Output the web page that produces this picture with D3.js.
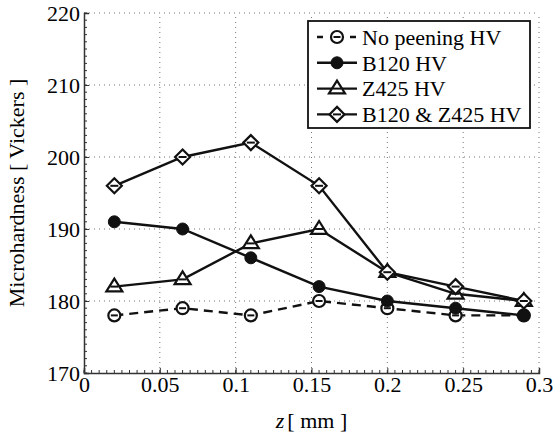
<!DOCTYPE html>
<html>
<head>
<meta charset="utf-8">
<script src="https://cdn.jsdelivr.net/npm/d3@7"></script>
<style>
  body { margin: 0; background: #fff; }
</style>
</head>
<body>
<svg id="main"></svg>
<script>
var w = 553;
var h = 438;
var padLeft = 84, padRight = 14, padTop = 13, padBottom = 65;
var serif = "Liberation Serif";

// data
var depth = [0.02, 0.065, 0.11, 0.155, 0.2, 0.245, 0.29];
var noPeening = [178, 179, 178, 180, 179, 178, 178];
var b120 = [191, 190, 186, 182, 180, 179, 178];
var z425 = [182, 183, 188, 190, 184, 181, 180];
var b120z425 = [196, 200, 202, 196, 184, 182, 180];
var seriesNames = ["No peening HV", "B120 HV", "Z425 HV", "B120 & Z425 HV"];
var xTicks = [0, 0.05, 0.1, 0.15, 0.2, 0.25, 0.3];
var yTicks = [170, 180, 190, 200, 210, 220];

var series = [
  {name: seriesNames[0], values: noPeening, marker: "circle", dash: "9,6"},
  {name: seriesNames[1], values: b120, marker: "dot", dash: null},
  {name: seriesNames[2], values: z425, marker: "triangle", dash: null},
  {name: seriesNames[3], values: b120z425, marker: "diamond", dash: null}
];

var svg = d3.select("#main").attr("width", w).attr("height", h)
  .attr("font-family", serif);

var x = d3.scaleLinear().domain([0, 0.3]).range([padLeft, w - padRight]);
var y = d3.scaleLinear().domain([170, 220]).range([h - padBottom, padTop]);

function serifText(sel) {
  return sel.attr("font-family", serif).style("font-family", "'Liberation Serif'")
    .attr("font-size", 22).style("font-size", "22px");
}

// dotted grid
var grid = svg.append("g").attr("stroke", "#777").attr("stroke-width", 1)
  .attr("stroke-dasharray", "1,4");
grid.selectAll(".gx").data(xTicks.slice(1)).enter().append("line")
  .attr("x1", function(d) { return x(d); }).attr("x2", function(d) { return x(d); })
  .attr("y1", y(170)).attr("y2", y(220));
grid.selectAll(".gy").data(yTicks.slice(1)).enter().append("line")
  .attr("y1", function(d) { return y(d); }).attr("y2", function(d) { return y(d); })
  .attr("x1", x(0)).attr("x2", x(0.3));

// axes with inward ticks
var xAxis = d3.axisBottom(x).tickValues(xTicks).tickSize(-5).tickPadding(3)
  .tickFormat(function(d) { return d === 0 ? "0" : String(d); });
var yAxis = d3.axisLeft(y).tickValues(yTicks).tickSize(-5).tickPadding(4);

var gx = svg.append("g").attr("transform", "translate(0," + y(170) + ")").call(xAxis);
var gy = svg.append("g").attr("transform", "translate(" + x(0) + ",0)").call(yAxis);
[gx, gy].forEach(function(g) {
  g.attr("font-family", serif).attr("font-size", 22);
  g.select(".domain").attr("stroke", "#333").attr("stroke-width", 1.5);
  g.selectAll(".tick line").attr("stroke", "#333");
  serifText(g.selectAll(".tick text")).attr("fill", "#000");
});
gx.selectAll(".tick text").attr("dy", "0.71em");

// minor ticks
var xMinor = d3.range(0, 0.3001, 0.005);
var yMinor = d3.range(170, 220.01, 1);
svg.append("g").selectAll("line").data(xMinor).enter().append("line")
  .attr("x1", function(d) { return x(d); }).attr("x2", function(d) { return x(d); })
  .attr("y1", y(170)).attr("y2", y(170) - 3).attr("stroke", "#333");
svg.append("g").selectAll("line").data(yMinor).enter().append("line")
  .attr("y1", function(d) { return y(d); }).attr("y2", function(d) { return y(d); })
  .attr("x1", x(0)).attr("x2", x(0) + 3).attr("stroke", "#333");

// axis labels
serifText(svg.append("text"))
  .attr("transform", "translate(24," + ((y(170) + y(220)) / 2) + ") rotate(-90)")
  .attr("text-anchor", "middle")
  .text("Microhardness [ Vickers ]");
var xl = serifText(svg.append("text")).attr("x", (x(0) + x(0.3)) / 2).attr("y", 428)
  .attr("text-anchor", "middle");
xl.append("tspan").attr("font-style", "italic").text("z");
xl.append("tspan").attr("dx", 3).text("[ mm ]");

function drawMarker(g, type, cx, cy) {
  if (type === "circle") {
    g.append("circle").attr("cx", cx).attr("cy", cy).attr("r", 6)
      .attr("fill", "#fff").attr("stroke", "#111").attr("stroke-width", 2.2);
    g.append("line").attr("x1", cx - 3.5).attr("x2", cx + 3.5).attr("y1", cy).attr("y2", cy)
      .attr("stroke", "#111").attr("stroke-width", 2);
  } else if (type === "dot") {
    g.append("circle").attr("cx", cx).attr("cy", cy).attr("r", 6)
      .attr("fill", "#111").attr("stroke", "#111").attr("stroke-width", 1);
  } else if (type === "triangle") {
    var s = 8;
    g.append("path")
      .attr("d", "M" + cx + "," + (cy - s) + "L" + (cx + s) + "," + (cy + s * 0.6) + "L" + (cx - s) + "," + (cy + s * 0.6) + "Z")
      .attr("fill", "#fff").attr("stroke", "#111").attr("stroke-width", 2.2);
    g.append("line").attr("x1", cx - 4).attr("x2", cx + 4).attr("y1", cy).attr("y2", cy)
      .attr("stroke", "#111").attr("stroke-width", 2);
  } else {
    var d = 7.5;
    g.append("path")
      .attr("d", "M" + cx + "," + (cy - d) + "L" + (cx + d) + "," + cy + "L" + cx + "," + (cy + d) + "L" + (cx - d) + "," + cy + "Z")
      .attr("fill", "#fff").attr("stroke", "#111").attr("stroke-width", 2.2);
    g.append("line").attr("x1", cx - 4).attr("x2", cx + 4).attr("y1", cy).attr("y2", cy)
      .attr("stroke", "#111").attr("stroke-width", 2);
  }
}

var line = d3.line()
  .x(function(d, i) { return x(depth[i]); })
  .y(function(d) { return y(d); });

series.forEach(function(s) {
  var g = svg.append("g");
  g.append("path").datum(s.values).attr("d", line)
    .attr("fill", "none").attr("stroke", "#111").attr("stroke-width", 2.4)
    .attr("stroke-dasharray", s.dash);
  s.values.forEach(function(v, i) { drawMarker(g, s.marker, x(depth[i]), y(v)); });
});

// legend
var lg = svg.append("g").attr("transform", "translate(308,21)");
lg.append("rect").attr("width", 222).attr("height", 107)
  .attr("fill", "#fff").attr("stroke", "#111").attr("stroke-width", 1.8);
series.forEach(function(s, i) {
  var yy = 16 + i * 25.8;
  var row = lg.append("g");
  row.append("line").attr("x1", 9).attr("x2", 49).attr("y1", yy).attr("y2", yy)
    .attr("stroke", "#111").attr("stroke-width", 2.4).attr("stroke-dasharray", s.dash ? "6,9,9,9,6" : null);
  drawMarker(row, s.marker, 29, yy);
  serifText(row.append("text")).attr("x", 54).attr("y", yy).attr("dy", "0.35em")
    .text(s.name);
});
</script>
</body>
</html>
